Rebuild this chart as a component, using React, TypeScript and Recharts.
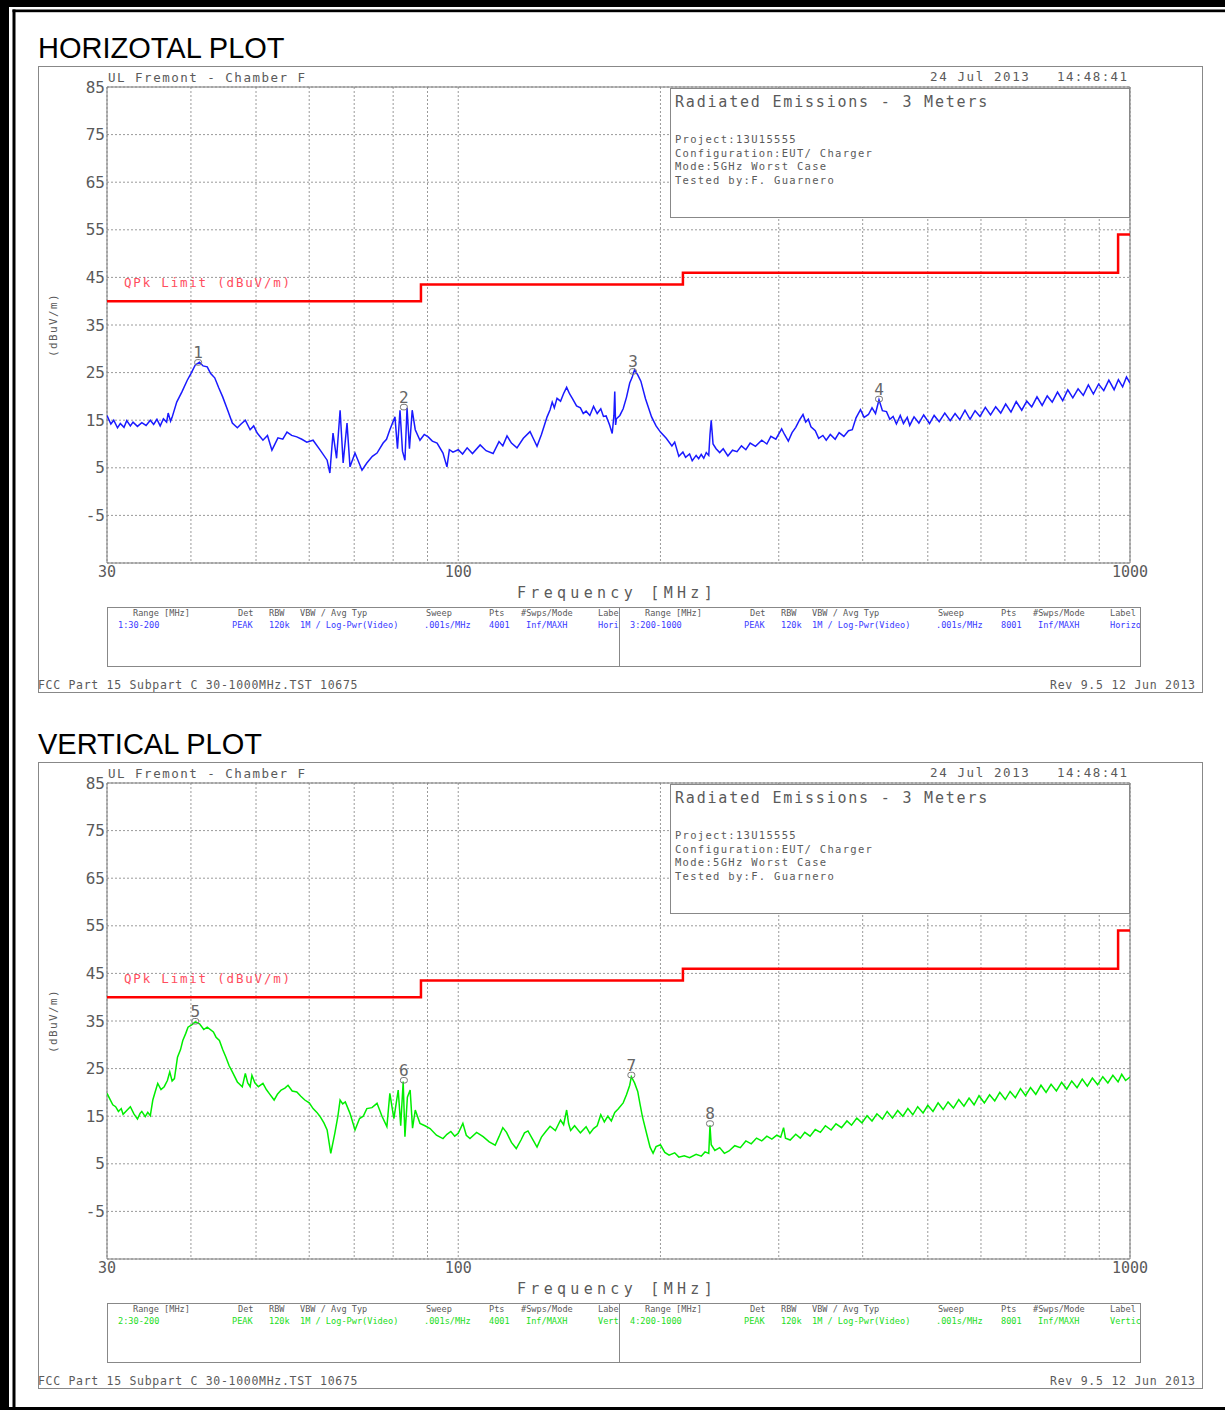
import React from "react";
import {
  ComposedChart,
  Line,
  Scatter,
  XAxis,
  YAxis,
  CartesianGrid,
  ReferenceArea,
} from "recharts";

// ---- data (freq MHz, level dBuV/m) ----
const xGridTicks = [30, 40, 50, 60, 70, 80, 90, 100, 200, 300, 400, 500, 600, 700, 800, 900, 1000];
const xLabelTicks = [30, 100, 1000];
const yTicks = [-5, 5, 15, 25, 35, 45, 55, 65, 75, 85];

const limitSteps: [number, number][] = [[30, 40], [88, 43.5], [216, 46], [960, 54], [1000, 54]];

const horizTrace: [number, number][] = [
  [30, 16.0], [30.4, 14.2], [30.7, 15.0], [31.1, 13.4], [31.4, 14.3], [31.8, 13.5], [32.1, 14.9],
  [32.5, 13.8], [32.8, 14.6], [33.3, 13.7], [33.8, 14.5], [34.3, 13.9], [34.8, 15.0], [35.2, 14.1],
  [35.6, 15.2], [36.0, 13.8], [36.4, 15.3], [36.8, 14.6], [37.0, 16.5], [37.3, 14.8], [37.5, 15.6],
  [38.1, 18.8], [38.8, 21.0], [39.5, 23.4], [40.0, 24.8], [40.6, 26.6], [41.2, 27.2], [41.7, 26.4],
  [42.3, 26.2], [42.8, 24.8], [43.4, 23.9], [44.0, 21.8], [44.6, 19.9], [45.4, 17.0], [46.1, 14.4],
  [46.9, 13.4], [47.5, 14.2], [48.2, 15.0], [49.0, 13.0], [49.6, 13.8], [50.2, 12.3], [51.2, 10.8],
  [52.0, 11.8], [52.8, 8.7], [53.9, 11.3], [54.8, 11.0], [55.6, 12.5], [56.5, 11.8], [57.5, 11.5],
  [58.5, 11.0], [59.5, 10.4], [60.8, 10.8], [62.3, 8.7], [63.8, 6.6], [64.4, 3.9], [65.1, 12.3],
  [65.9, 7.0], [66.7, 17.1], [67.4, 6.0], [68.3, 14.4], [69.0, 5.2], [70.2, 8.1], [71.9, 4.5],
  [73.1, 6.0], [74.5, 7.4], [75.7, 8.1], [77.3, 10.2], [78.2, 11.0], [79.1, 13.0], [80.5, 15.7],
  [81.2, 9.0], [81.9, 17.1], [82.6, 8.5], [83.3, 6.6], [83.9, 17.6], [84.6, 9.0], [85.4, 17.1],
  [86.3, 13.0], [87.7, 10.8], [89.0, 12.0], [90.2, 11.5], [91.5, 10.6], [93.0, 10.2], [94.9, 8.1],
  [96.2, 5.2], [97.0, 8.8], [98.2, 8.3], [100, 8.8], [101.5, 7.9], [103.1, 9.2], [105, 8.0],
  [107.8, 9.8], [110, 8.6], [112.7, 8.0], [115, 10.5], [116.5, 9.6], [118.2, 11.7], [120, 10.2],
  [122.3, 9.2], [125, 11.2], [127.9, 12.6], [129.5, 11.0], [131, 9.5], [133, 12.0], [135.6, 15.7],
  [137, 17.2], [138, 18.8], [139, 17.6], [140.3, 19.6], [142, 19.0], [143.5, 20.6], [145, 21.9],
  [146.5, 20.5], [148, 19.5], [150, 18.0], [152, 17.6], [153.5, 16.4], [155, 16.9], [157, 16.0],
  [159, 17.9], [161, 16.4], [163, 17.4], [164.5, 15.8], [166, 15.9], [168, 14.0], [169.5, 12.2],
  [170.5, 16.0], [171, 21.0], [171.5, 14.0], [172, 15.3], [174, 16.0], [176, 17.4], [178, 19.8],
  [180, 22.8], [181.5, 24.0], [183, 25.6], [185, 24.5], [187, 23.2], [190, 19.5], [194, 15.7],
  [197, 13.8], [200, 12.5], [204, 11.2], [208, 9.6], [210, 10.4], [213, 7.4], [216, 8.3], [218, 7.2],
  [221, 7.9], [223, 6.5], [226, 7.6], [228, 6.9], [230, 7.8], [232, 7.0], [234, 8.2], [236, 7.6],
  [237, 12.0], [238, 15.0], [239.5, 10.0], [242, 9.0], [245, 8.2], [248, 9.0], [252, 7.5], [256, 8.7],
  [260, 8.4], [264, 9.6], [268, 8.8], [272, 10.2], [277, 9.5], [283, 10.8], [288, 10.0], [292, 11.6],
  [297, 11.0], [303, 13.2], [306, 12.0], [310, 10.6], [314, 12.4], [318, 13.5], [322, 15.0],
  [326, 16.2], [329, 14.6], [332, 15.2], [335, 13.6], [340, 12.8], [344, 11.2], [349, 11.8],
  [353, 10.8], [358, 12.0], [364, 11.0], [369, 12.4], [375, 11.6], [381, 12.8], [386, 13.0],
  [391, 15.5], [397, 17.2], [402, 15.6], [408, 16.2], [413, 17.6], [418, 16.4], [423, 19.3],
  [428, 17.0], [434, 16.8], [439, 15.2], [444, 15.8], [449, 14.2], [455, 16.0], [460, 14.3],
  [466, 15.6], [470, 13.9], [477, 15.7], [485, 14.4], [493, 16.1], [503, 14.3], [511, 16.0],
  [520, 14.7], [530, 16.5], [540, 14.9], [549, 16.4], [558, 15.1], [568, 17.1], [578, 15.2],
  [588, 17.0], [598, 15.8], [609, 17.7], [620, 16.1], [631, 17.8], [642, 16.5], [653, 18.4],
  [665, 16.7], [677, 18.9], [690, 17.1], [702, 19.0], [714, 17.8], [727, 19.9], [740, 18.1],
  [753, 20.1], [766, 18.8], [780, 20.9], [794, 19.1], [808, 21.4], [822, 19.7], [837, 21.6],
  [852, 20.2], [867, 22.4], [882, 20.5], [898, 22.6], [914, 21.2], [930, 23.4], [947, 21.4],
  [961, 23.5], [975, 22.0], [988, 24.1], [1000, 22.8],
];

const vertTrace: [number, number][] = [
  [30, 19.8], [30.3, 18.6], [30.6, 17.4], [30.9, 17.0], [31.2, 16.0], [31.5, 16.6], [31.7, 15.4],
  [32.1, 16.2], [32.5, 17.0], [32.9, 15.5], [33.3, 14.4], [33.6, 15.6], [33.8, 16.0], [34.2, 14.9],
  [34.5, 15.8], [34.8, 15.1], [35.1, 18.4], [35.4, 20.2], [35.7, 21.9], [36.1, 20.6], [36.5, 21.2],
  [36.9, 22.5], [37.2, 24.3], [37.5, 22.4], [37.8, 22.9], [38.2, 27.4], [38.6, 29.0], [38.9, 30.9],
  [39.3, 32.4], [39.6, 33.7], [40.1, 34.2], [40.6, 34.8], [41.2, 34.4], [41.8, 33.2], [42.3, 33.7],
  [43.2, 32.7], [43.6, 31.6], [44.1, 30.9], [44.6, 29.0], [45.1, 27.4], [45.6, 25.6], [46.1, 24.3],
  [46.9, 22.2], [47.7, 21.2], [48.2, 24.0], [48.6, 22.0], [49.0, 21.2], [49.3, 23.6], [49.8, 22.0],
  [50.4, 21.2], [51.2, 21.9], [51.8, 20.6], [52.3, 19.8], [53.2, 18.4], [53.8, 19.6], [54.5, 20.5],
  [55.2, 20.9], [55.8, 21.5], [56.6, 20.3], [57.5, 20.1], [58.3, 19.2], [59.1, 18.4], [60.0, 17.8],
  [60.8, 16.6], [61.6, 15.8], [62.3, 14.9], [63.1, 13.6], [63.8, 12.1], [64.6, 7.2], [65.5, 11.4],
  [66.2, 15.0], [66.7, 18.4], [67.3, 17.6], [67.9, 18.0], [69.0, 15.6], [70.2, 12.1], [71.3, 14.5],
  [72.2, 15.0], [73.1, 16.6], [74.4, 16.8], [75.7, 17.7], [77.0, 15.0], [78.3, 12.8], [79.1, 19.8],
  [80.2, 14.5], [81.4, 20.5], [82.1, 13.0], [82.8, 22.3], [83.3, 10.7], [84.0, 19.0], [84.8, 20.5],
  [85.5, 12.5], [86.3, 16.3], [87.7, 13.5], [89.2, 13.0], [90.8, 12.4], [92.8, 11.0], [94.9, 10.3],
  [96.2, 11.2], [97.5, 11.8], [98.8, 10.8], [100, 11.4], [101.6, 13.5], [102.8, 11.0], [104.1, 10.3],
  [106.5, 11.6], [108.9, 10.7], [111.2, 9.6], [113.5, 8.9], [115, 10.7], [116.5, 12.6], [118, 11.6],
  [120, 9.5], [122, 8.2], [124, 10.0], [125.5, 11.5], [127, 11.9], [129, 10.2], [131, 8.5],
  [133, 10.6], [135, 11.8], [137, 12.9], [139.5, 12.0], [142, 14.2], [143.5, 13.2], [145, 16.3],
  [146, 13.4], [147, 12.0], [149, 13.0], [152, 11.5], [155, 12.8], [157, 11.4], [159, 12.4],
  [161, 13.0], [163, 15.3], [165, 13.8], [167, 15.0], [169, 14.0], [171, 15.8], [173, 16.5],
  [176, 17.8], [178, 19.5], [180, 21.5], [181, 23.3], [183, 22.0], [185, 20.2], [186.5, 17.5],
  [188, 14.9], [191, 11.0], [193, 8.5], [195, 7.2], [197, 8.6], [200, 9.0], [203, 7.4], [206, 6.8],
  [210, 7.3], [213, 6.4], [217, 6.7], [221, 6.3], [226, 7.0], [230, 6.6], [233, 7.5], [236, 7.2],
  [237, 13.1], [238, 9.0], [241, 7.8], [245, 8.4], [249, 7.2], [253, 7.7], [258, 8.8], [263, 8.4],
  [268, 9.8], [273, 9.2], [278, 10.4], [283, 9.8], [288, 10.8], [293, 10.2], [298, 11.0],
  [302, 10.6], [305, 12.6], [307, 10.4], [312, 10.0], [318, 11.2], [323, 10.4], [328, 11.6],
  [334, 10.8], [340, 12.2], [346, 11.6], [352, 13.0], [359, 12.1], [365, 13.4], [372, 12.6],
  [379, 14.0], [385, 13.1], [392, 14.6], [399, 13.6], [406, 15.1], [413, 14.0], [420, 15.5],
  [428, 14.4], [435, 16.0], [443, 14.6], [451, 16.2], [459, 15.0], [467, 16.6], [475, 15.3],
  [483, 17.0], [492, 15.7], [500, 17.3], [509, 16.0], [518, 17.8], [527, 16.4], [536, 18.0],
  [546, 16.7], [556, 18.5], [566, 17.1], [576, 18.8], [586, 17.4], [596, 19.3], [607, 17.8],
  [618, 19.5], [629, 18.2], [640, 20.0], [652, 18.5], [663, 20.2], [675, 18.9], [687, 20.8],
  [699, 19.3], [711, 21.0], [724, 19.6], [737, 21.5], [750, 20.0], [763, 21.7], [777, 20.3],
  [791, 22.1], [805, 20.7], [819, 22.4], [834, 21.0], [849, 22.8], [864, 21.3], [879, 23.0],
  [895, 21.6], [911, 23.3], [927, 22.0], [943, 23.6], [960, 22.2], [972, 23.8], [985, 22.5],
  [1000, 23.2],
];

const horizMarkers: [string, number, number][] = [["1", 41.0, 27.2], ["2", 83.0, 17.8], ["3", 182, 25.3], ["4", 423, 19.5]];
const vertMarkers: [string, number, number][] = [["5", 40.6, 35.0], ["6", 83.0, 22.6], ["7", 181, 23.7], ["8", 237, 13.5]];

const tableHeaders = ["Range [MHz]", "Det", "RBW", "VBW / Avg Typ", "Sweep", "Pts", "#Swps/Mode", "Label"];
const horizRows = [
  ["1:30-200", "PEAK", "120k", "1M / Log-Pwr(Video)", ".001s/MHz", "4001", "Inf/MAXH", "Hori"],
  ["3:200-1000", "PEAK", "120k", "1M / Log-Pwr(Video)", ".001s/MHz", "8001", "Inf/MAXH", "Horizo"],
];
const vertRows = [
  ["2:30-200", "PEAK", "120k", "1M / Log-Pwr(Video)", ".001s/MHz", "4001", "Inf/MAXH", "Vert"],
  ["4:200-1000", "PEAK", "120k", "1M / Log-Pwr(Video)", ".001s/MHz", "8001", "Inf/MAXH", "Vertic"],
];
const infoLines = ["Project:13U15555", "Configuration:EUT/ Charger", "Mode:5GHz Worst Case", "Tested by:F. Guarnero"];

const headerCols = [26, 131, 162, 193, 319, 382, 414, 491];
const valueCols = [11, 125, 162, 193, 317, 382, 419, 491];

const mono = "'DejaVu Sans Mono', monospace";
const gray = "#5a5a5a";

const toPoints = (rows: [number, number][]) => rows.map(([freq, level]) => ({ freq, level }));
const toMarkers = (rows: [string, number, number][]) => rows.map(([id, freq, level]) => ({ id, freq, level }));

const MarkerShape = (props: any) => {
  const { cx, cy, payload } = props;
  return (
    <g>
      <rect x={cx - 3.5} y={cy - 2.5} width={7} height={5.5} rx={2.5} fill="none" stroke="#777" strokeWidth={1} />
      <text x={cx} y={cy - 4} textAnchor="middle" fontFamily={mono} fontSize={16} fill="#666">
        {payload.id}
      </text>
    </g>
  );
};

function EmiChart({ top, trace, color, markers }: { top: number; trace: [number, number][]; color: string; markers: [string, number, number][] }) {
  return (
    <div style={{ position: "absolute", left: 38, top, width: 1164, height: 626 }}>
      <ComposedChart width={1164} height={626} margin={{ top: 21, right: 72, bottom: 0, left: 0 }}>
        <CartesianGrid stroke="#9a9a9a" strokeDasharray="2 2" />
        <XAxis
          dataKey="freq"
          type="number"
          scale="log"
          domain={[30, 1000]}
          ticks={xGridTicks}
          interval={0}
          allowDataOverflow
          height={129}
          tickLine={false}
          axisLine={false}
          tickSize={0}
          tickMargin={3}
          tickFormatter={(v: number) => (xLabelTicks.includes(v) ? String(v) : "")}
          tick={{ fontSize: 15, fontFamily: mono, fill: gray }}
        />
        <YAxis
          dataKey="level"
          type="number"
          domain={[-15, 85]}
          ticks={yTicks}
          interval={0}
          width={69}
          tickLine={false}
          axisLine={false}
          tickSize={0}
          tickMargin={2}
          tick={{ fontSize: 16, fontFamily: mono, fill: gray }}
        />
        <ReferenceArea x1={30} x2={1000} y1={-15} y2={85} fill="none" fillOpacity={0} stroke="#7a7a7a" strokeWidth={1} />
        <Line
          data={toPoints(trace)}
          dataKey="level"
          stroke={color}
          strokeWidth={1.5}
          dot={false}
          type="linear"
          isAnimationActive={false}
        />
        <Line
          data={toPoints(limitSteps)}
          dataKey="level"
          stroke="#ff0000"
          strokeWidth={2.5}
          dot={false}
          type="stepAfter"
          isAnimationActive={false}
        />
        <Scatter data={toMarkers(markers)} dataKey="level" shape={<MarkerShape />} isAnimationActive={false} />
      </ComposedChart>
    </div>
  );
}

function PanelDecor({ off, title, rows, valueColor, clipId }: { off: number; title: string; rows: string[][]; valueColor: string; clipId: string }) {
  const sections = [107, 619];
  return (
    <g transform={`translate(0, ${off})`}>
      <text x={38} y={58} fontFamily="'Liberation Sans', Arial, sans-serif" fontSize={29} fill="#000">
        {title}
      </text>
      <rect x={38.5} y={66.5} width={1164} height={626} fill="none" stroke="#888" />
      <text x={108} y={82} fontFamily={mono} fontSize={12.5} letterSpacing={1.5} fill={gray}>
        UL Fremont - Chamber F
      </text>
      <text x={930} y={81} fontFamily={mono} fontSize={12.5} letterSpacing={1.6} fill={gray}>
        24 Jul 2013
      </text>
      <text x={1057} y={81} fontFamily={mono} fontSize={12.5} letterSpacing={1.4} fill={gray}>
        14:48:41
      </text>
      <rect x={670.5} y={88.5} width={459} height={129} fill="#fff" stroke="#888" />
      <text x={675} y={107} fontFamily={mono} fontSize={15} letterSpacing={1.8} fill={gray}>
        Radiated Emissions - 3 Meters
      </text>
      {infoLines.map((t, i) => (
        <text key={t} x={675} y={143 + i * 13.7} fontFamily={mono} fontSize={10.5} letterSpacing={1.3} fill={gray}>
          {t}
        </text>
      ))}
      <text x={124} y={287} fontFamily={mono} fontSize={12.5} letterSpacing={1.8} fill="#ff4d5e">
        QPk Limit (dBuV/m)
      </text>
      <text
        x={57}
        y={325}
        transform="rotate(-90 57 325)"
        textAnchor="middle"
        fontFamily={mono}
        fontSize={11}
        letterSpacing={1.4}
        fill={gray}
      >
        (dBuV/m)
      </text>
      <text x={517} y={598} fontFamily={mono} fontSize={15} letterSpacing={4.3} fill={gray}>
        Frequency [MHz]
      </text>
      <rect x={107.5} y={607.5} width={1033} height={59} fill="none" stroke="#888" />
      <line x1={619.5} y1={607.5} x2={619.5} y2={666.5} stroke="#888" />
      {sections.map((sx, si) => (
        <g key={sx} clipPath={`url(#${clipId}-${si})`}>
          {tableHeaders.map((h, ci) => (
            <text key={h} x={sx + headerCols[ci]} y={616} fontFamily={mono} fontSize={8.6} fill={gray}>
              {ci === 7 && si === 0 ? "Labe" : h}
            </text>
          ))}
          {rows[si].map((v, ci) => (
            <text key={ci} x={sx + valueCols[ci]} y={627.5} fontFamily={mono} fontSize={8.6} fill={valueColor}>
              {v}
            </text>
          ))}
        </g>
      ))}
      <defs>
        <clipPath id={`${clipId}-0`}>
          <rect x={108} y={600} width={511} height={70} />
        </clipPath>
        <clipPath id={`${clipId}-1`}>
          <rect x={620} y={600} width={520} height={70} />
        </clipPath>
      </defs>
      <text x={38} y={689} fontFamily={mono} fontSize={11.5} letterSpacing={0.7} fill={gray}>
        FCC Part 15 Subpart C 30-1000MHz.TST 10675
      </text>
      <text x={1050} y={689} fontFamily={mono} fontSize={11.5} letterSpacing={0.75} fill={gray}>
        Rev 9.5 12 Jun 2013
      </text>
    </g>
  );
}

export default function App() {
  return (
    <div style={{ position: "absolute", left: 0, top: 0, width: 1225, height: 1410, background: "#fff", overflow: "hidden" }}>
      <EmiChart top={66} trace={horizTrace} color="#1a1aff" markers={horizMarkers} />
      <EmiChart top={762} trace={vertTrace} color="#00ee00" markers={vertMarkers} />
      <svg width={1225} height={1410} style={{ position: "absolute", left: 0, top: 0, pointerEvents: "none" }}>
        <rect x={0} y={0} width={1225} height={7} fill="#000" />
        <rect x={0} y={0} width={9} height={1410} fill="#000" />
        <rect x={12.5} y={9.5} width={1213} height={2.7} fill="#000" />
        <rect x={12.5} y={9.5} width={3} height={1401} fill="#000" />
        <rect x={0} y={1407} width={1225} height={3} fill="#000" />
        <PanelDecor off={0} title="HORIZOTAL PLOT" rows={horizRows} valueColor="#3a3aff" clipId="hclip" />
        <PanelDecor off={696} title="VERTICAL PLOT" rows={vertRows} valueColor="#22dd22" clipId="vclip" />
      </svg>
    </div>
  );
}
